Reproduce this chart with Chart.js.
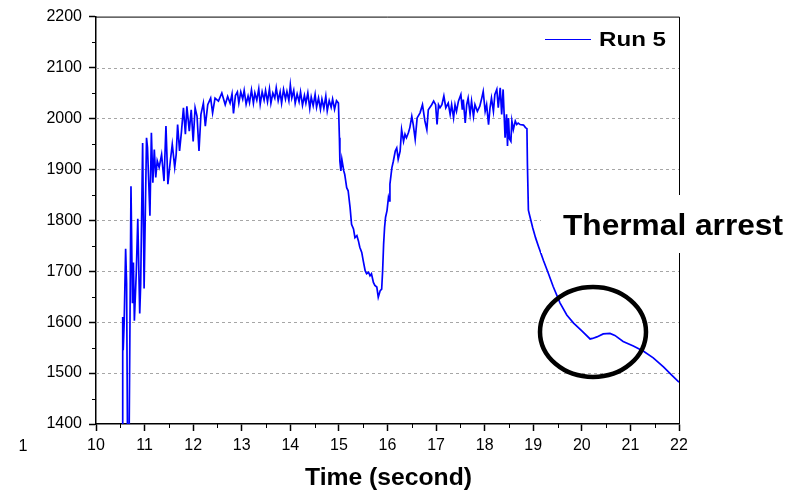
<!DOCTYPE html>
<html><head><meta charset="utf-8">
<script src="https://cdn.jsdelivr.net/npm/chart.js@4.4.1/dist/chart.umd.min.js"></script>
<style>html,body{margin:0;padding:0;background:#fff;}canvas{display:block}</style>
</head><body>
<canvas id="c" width="790" height="492"></canvas>
<script>
// ---- data ----
const timeSec = [
 10.54,10.55,10.56,10.58,10.61,10.63,10.65,10.68,10.72,10.75,10.77,10.79,10.83,10.86,10.90,10.92,10.96,10.99,
 11.04,11.06,11.11,11.14,11.17,11.20,11.23,11.26,11.30,11.35,11.40,11.44,11.48,11.53,11.57,11.62,11.65,11.68,
 11.72,11.76,11.80,11.84,11.87,11.92,11.96,12.00,12.04,12.08,12.12,12.16,12.21,12.25,12.30,12.36,12.40,12.45,
 12.52,12.59,12.66,12.71,
 12.76,12.80,12.83,12.87,12.91,12.94,12.98,13.02,13.05,13.09,13.13,13.16,13.20,13.24,13.27,13.31,13.35,13.38,
 13.42,13.46,13.49,13.53,13.57,13.60,13.64,13.68,13.71,13.75,13.79,13.82,13.86,13.90,13.93,13.97,14.00,14.03,
 14.07,14.10,14.14,14.18,14.21,14.25,14.29,14.32,14.36,14.40,14.43,14.47,14.51,14.54,14.58,14.62,14.65,14.69,
 14.73,14.76,14.80,14.84,14.87,14.91,14.95,14.99,
 15.01,15.02,15.04,15.06,15.10,15.12,15.16,15.19,15.23,15.26,15.30,15.33,15.37,15.40,15.43,15.47,15.50,15.54,
 15.57,15.61,15.64,15.67,15.71,15.74,15.78,15.81,15.85,15.88,15.90,15.92,15.94,15.96,15.99,16.02,16.04,16.05,
 16.09,16.12,16.16,16.19,16.22,16.26,16.29,16.33,16.36,16.39,16.43,16.46,16.50,16.53,16.57,16.61,16.67,16.72,
 16.77,16.81,16.84,16.91,16.95,16.99,17.02,
 17.05,17.08,17.12,17.16,17.20,17.25,17.29,17.32,17.36,17.39,17.42,17.46,17.51,17.54,17.56,17.60,17.63,17.66,
 17.70,17.73,17.77,17.80,17.85,17.90,17.94,17.97,18.01,18.04,18.08,18.11,18.14,18.18,18.21,18.25,18.28,18.32,
 18.35,18.38,18.42,18.45,18.47,18.49,18.51,18.54,18.56,18.59,18.63,18.66,18.69,18.73,18.80,18.84,18.87,
 18.88,18.90,18.93,18.99,19.05,19.11,19.21,19.31,19.41,19.55,19.69,19.83,20.00,20.17,20.22,20.31,20.44,20.58,
 20.68,20.85,21.06,21.27,21.47,21.68,21.85,22.00
];
const temperature = [
 1350,1610,1545,1600,1744,1676,1350,1350,1867,1637,1717,1603,1700,1803,1617,1676,1952,1666,
 1962,1943,1809,1972,1874,1939,1884,1917,1904,1929,1877,1985,1871,1917,1949,1904,1929,1988,
 1936,1975,2021,1969,2024,1975,2017,1955,2021,2004,1936,2008,2030,1985,2027,2040,2011,2040,
 2034,2050,2027,2043,
 2030,2048,2010,2045,2052,2030,2052,2038,2055,2028,2044,2031,2056,2030,2050,2036,2058,2028,
 2052,2036,2055,2033,2058,2030,2050,2040,2060,2035,2052,2030,2057,2038,2053,2035,2066,2040,
 2055,2030,2048,2033,2052,2026,2045,2030,2050,2020,2042,2025,2047,2022,2040,2018,2038,2020,
 2044,2015,2035,2022,2038,2018,2035,2030,
 1962,1916,1897,1920,1897,1890,1864,1858,1825,1792,1783,1766,1770,1760,1747,1737,1721,1701,
 1695,1698,1691,1695,1678,1672,1669,1649,1662,1665,1701,1753,1786,1806,1819,1845,1838,1871,
 1903,1916,1936,1942,1920,1936,1978,1955,1969,1962,1972,1982,2004,1988,1959,2001,2011,2027,
 1995,1978,2017,2027,2034,2027,1988,
 2027,2021,2027,2044,2021,2030,2008,2027,2001,2027,2014,2034,2047,2017,2037,1991,2027,2040,
 2008,2034,2004,2027,2014,2024,2040,2053,2014,2027,1988,2021,2040,2014,2047,2057,2021,2060,
 2008,2057,1962,2008,1946,2001,1960,1955,1995,1978,1995,1988,1991,1988,1987,1982,1980,
 1910,1820,1808,1785,1765,1748,1721,1696,1670,1638,1614,1598,1583,1567,1568,1571,1577,1578,
 1574,1562,1553,1543,1530,1512,1496,1482
];
const xTickValues = [10,11,12,13,14,15,16,17,18,19,20,21,22];
const yTickValues = [1400,1500,1600,1700,1800,1900,2000,2100,2200];
const yGridValues = [1500,1600,1700,1800,1900,2000,2100];
const seriesName = 'Run 5';
const annotationText = 'Thermal arrest';
const xAxisTitle = 'Time (second)';
const strayLabel = '1';

function stretchText(ctx, text, x, y, font, width, align) {
  ctx.save();
  ctx.font = font;
  ctx.textBaseline = 'alphabetic';
  ctx.textAlign = 'left';
  const w = ctx.measureText(text).width;
  const s = width / w;
  const left = align === 'center' ? x - width / 2 : (align === 'right' ? x - width : x);
  ctx.translate(left, y);
  ctx.scale(s, 1);
  ctx.fillStyle = '#000';
  ctx.fillText(text, 0, 0);
  ctx.restore();
}

const decor = {
  id: 'decor',
  beforeDatasetsDraw(chart) {
    const {ctx, chartArea: a, scales} = chart;
    ctx.save();
    ctx.strokeStyle = '#a6a6a6';
    ctx.lineWidth = 1;
    ctx.setLineDash([3, 3]);
    yGridValues.forEach(v => {
      const y = Math.round(scales.y.getPixelForValue(v)) + 0.5;
      ctx.beginPath(); ctx.moveTo(a.left, y); ctx.lineTo(a.right, y); ctx.stroke();
    });
    ctx.restore();
  },
  afterDatasetsDraw(chart) {
    const {ctx, chartArea: a, scales} = chart;
    ctx.save();
    ctx.strokeStyle = '#000';
    ctx.lineWidth = 1;
    ctx.beginPath();
    ctx.moveTo(a.left, a.top + 0.5); ctx.lineTo(a.right + 0.5, a.top + 0.5);
    ctx.lineTo(a.right + 0.5, a.bottom);
    ctx.stroke();
    // minor ticks
    for (let i = 0; i < yTickValues.length - 1; i++) {
      const y = Math.round(scales.y.getPixelForValue((yTickValues[i] + yTickValues[i + 1]) / 2)) + 0.5;
      ctx.beginPath(); ctx.moveTo(a.left - 4, y); ctx.lineTo(a.left, y); ctx.stroke();
    }
    for (let i = 0; i < xTickValues.length - 1; i++) {
      const x = Math.round(scales.x.getPixelForValue((xTickValues[i] + xTickValues[i + 1]) / 2)) + 0.5;
      ctx.beginPath(); ctx.moveTo(x, a.bottom); ctx.lineTo(x, a.bottom + 4); ctx.stroke();
    }
    ctx.restore();
  },
  afterDraw(chart) {
    const {ctx} = chart;
    ctx.save();
    // annotation box & text
    ctx.fillStyle = '#fff';
    ctx.fillRect(541, 195, 249, 58);
    stretchText(ctx, annotationText, 563, 235, 'bold 30px "Liberation Sans", Arial, sans-serif', 220, 'left');
    // ellipse
    ctx.strokeStyle = '#000';
    ctx.lineWidth = 4.5;
    ctx.beginPath();
    ctx.ellipse(593, 332, 53, 45, 0, 0, Math.PI * 2);
    ctx.stroke();
    // legend
    ctx.strokeStyle = '#0000ff';
    ctx.lineWidth = 1;
    ctx.beginPath(); ctx.moveTo(545, 39.5); ctx.lineTo(591, 39.5); ctx.stroke();
    stretchText(ctx, seriesName, 599, 46, 'bold 21px "Liberation Sans", Arial, sans-serif', 67, 'left');
    // axis title
    stretchText(ctx, xAxisTitle, 388.5, 485, 'bold 23px "Liberation Sans", Arial, sans-serif', 167, 'center');
    // stray label
    stretchText(ctx, strayLabel, 23, 451, '16px "Liberation Sans", Arial, sans-serif', 9, 'center');
    ctx.restore();
  }
};

new Chart(document.getElementById('c'), {
  type: 'line',
  data: {
    datasets: [{
      label: seriesName,
      data: timeSec.map((t, i) => ({x: t, y: temperature[i]})),
      borderColor: '#0000ff',
      borderWidth: 1.7,
      pointRadius: 0,
      tension: 0,
      fill: false
    }]
  },
  options: {
    responsive: false,
    devicePixelRatio: 1,
    animation: false,
    layout: {padding: {top: 15, right: 111, left: 0, bottom: 0}},
    plugins: {legend: {display: false}, tooltip: {enabled: false}},
    scales: {
      x: {
        type: 'linear', min: 10, max: 22,
        afterBuildTicks: s => { s.ticks = xTickValues.map(v => ({value: v})); },
        afterFit: s => { s.height = 68; },
        ticks: {color: '#000', padding: 5, maxRotation: 0, autoSkip: false,
          font: {family: '"Liberation Sans", Arial, sans-serif', size: 16},
          callback: v => String(v)},
        grid: {drawOnChartArea: false, drawTicks: true, tickLength: 7, tickColor: '#000', tickWidth: 1.5, color: '#000'},
        border: {display: true, color: '#000', width: 1.5}
      },
      y: {
        type: 'linear', min: 1400, max: 2200,
        afterBuildTicks: s => { s.ticks = yTickValues.map(v => ({value: v})); },
        afterFit: s => { s.width = 96; },
        ticks: {color: '#000', padding: 7, autoSkip: false,
          font: {family: '"Liberation Sans", Arial, sans-serif', size: 16},
          callback: v => String(v)},
        grid: {drawOnChartArea: false, drawTicks: true, tickLength: 7, tickColor: '#000', tickWidth: 1.5, color: '#000'},
        border: {display: true, color: '#000', width: 1.5}
      }
    }
  },
  plugins: [decor]
});
</script>
</body></html>
